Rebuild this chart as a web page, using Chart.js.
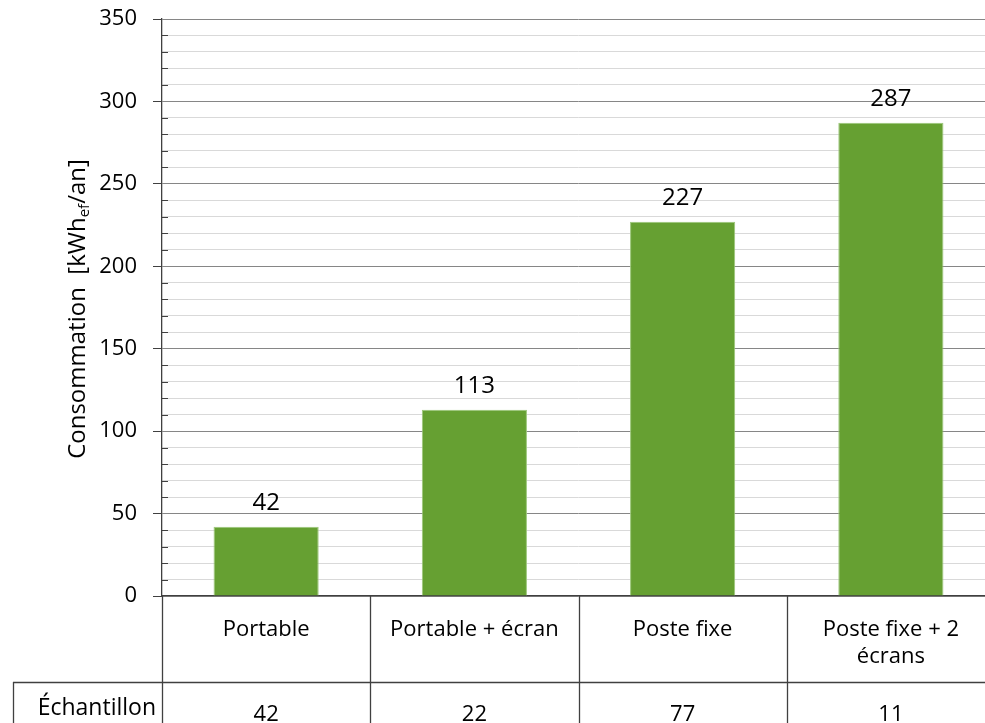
<!DOCTYPE html>
<html>
<head>
<meta charset="utf-8">
<script src="https://cdn.jsdelivr.net/npm/chart.js@4.4.1/dist/chart.umd.min.js"></script>
<style>
  html, body { margin: 0; padding: 0; overflow: hidden; background: #ffffff; }
  #wrap { position: relative; width: 1000px; height: 723px; }
</style>
</head>
<body>
<div id="wrap"><canvas id="chart" width="1000" height="723"></canvas></div>
<script>
// Configurations of workstation and their yearly consumption
const categories = [['Portable'], ['Portable + écran'], ['Poste fixe'], ['Poste fixe + 2', 'écrans']];
const consumption = [42, 113, 227, 287];
const sampleSizes = [42, 22, 77, 11];
const sampleLabel = 'Échantillon';
const yMin = 0;
const yMax = 350;
const yMajorStep = 50;
const yMinorStep = 10;

const FONT = "'Open Sans', 'DejaVu Sans', sans-serif";
const AXIS_COLOR = '#404040';
const MAJOR_GRID = '#868686';
const MINOR_GRID = '#d9d9d9';
const BAR_COLOR = '#66a032';

// Table under the axis, value labels, minor ticks and the y title
const tablePlugin = {
  id: 'tablePlugin',
  afterDraw(chart) {
    const ctx = chart.ctx;
    const area = chart.chartArea;
    const xs = chart.scales.x;
    const ys = chart.scales.y;
    const W = chart.width;
    const H = chart.height;
    const n = categories.length;
    const step = n > 1 ? xs.getPixelForValue(1) - xs.getPixelForValue(0) : area.right - area.left;
    const rowTop = area.bottom + 86;

    ctx.save();
    // minor tick marks inside the y axis
    ctx.strokeStyle = AXIS_COLOR;
    ctx.lineWidth = 1;
    for (let v = yMin; v <= yMax; v += yMinorStep) {
      if (v % yMajorStep === 0) continue;
      const y = Math.round(ys.getPixelForValue(v)) + 0.5;
      ctx.beginPath();
      ctx.moveTo(area.left, y);
      ctx.lineTo(area.left + 6, y);
      ctx.stroke();
    }

    // table grid lines
    ctx.strokeStyle = AXIS_COLOR;
    ctx.lineWidth = 1.3;
    for (let i = 0; i <= n; i++) {
      const x = Math.round(xs.getPixelForValue(0) - step / 2 + i * step) + 0.5;
      ctx.beginPath();
      ctx.moveTo(x, area.bottom);
      ctx.lineTo(x, H);
      ctx.stroke();
    }
    ctx.beginPath();
    ctx.moveTo(13, rowTop + 0.5);
    ctx.lineTo(W, rowTop + 0.5);
    ctx.stroke();
    ctx.beginPath();
    ctx.moveTo(13.5, rowTop);
    ctx.lineTo(13.5, H);
    ctx.stroke();

    // sample-size row
    ctx.fillStyle = '#000000';
    ctx.font = `23px ${FONT}`;
    ctx.textAlign = 'right';
    ctx.textBaseline = 'alphabetic';
    ctx.fillText(sampleLabel, area.left - 6, rowTop + 33);
    ctx.font = `22px ${FONT}`;
    ctx.textAlign = 'center';
    sampleSizes.forEach((s, i) => {
      ctx.fillText(String(s), xs.getPixelForValue(i), rowTop + 39);
    });

    // value labels above bars
    ctx.font = `24px ${FONT}`;
    const meta = chart.getDatasetMeta(0);
    meta.data.forEach((bar, i) => {
      ctx.fillText(String(consumption[i]), bar.x, bar.y - 17);
    });

    // y axis title with subscript
    ctx.translate(78, 309);
    ctx.rotate(-Math.PI / 2);
    const partA = 'Consommation  [kWh';
    const partSub = 'ef';
    const partB = '/an]';
    const big = `24px ${FONT}`;
    const small = `15px ${FONT}`;
    ctx.font = big;
    const wA = ctx.measureText(partA).width;
    const wB = ctx.measureText(partB).width;
    ctx.font = small;
    const wS = ctx.measureText(partSub).width;
    let x0 = -(wA + wS + wB) / 2;
    ctx.textAlign = 'left';
    ctx.textBaseline = 'middle';
    ctx.font = big;
    ctx.fillText(partA, x0, 0);
    x0 += wA;
    ctx.font = small;
    ctx.fillText(partSub, x0, 7);
    x0 += wS;
    ctx.font = big;
    ctx.fillText(partB, x0, 0);
    ctx.restore();
  }
};

new Chart(document.getElementById('chart'), {
  type: 'bar',
  data: {
    labels: categories,
    datasets: [{
      data: consumption,
      backgroundColor: BAR_COLOR,
      borderColor: '#9cc77a',
      borderWidth: 1,
      borderSkipped: 'bottom',
      categoryPercentage: 1,
      barPercentage: 0.505
    }]
  },
  options: {
    responsive: false,
    animation: false,
    devicePixelRatio: 1,
    layout: { padding: { top: 19, right: 5, left: 0, bottom: 0 } },
    plugins: {
      legend: { display: false },
      tooltip: { enabled: false },
      title: { display: false }
    },
    scales: {
      x: {
        grid: { display: false, drawTicks: false },
        border: { display: true, color: AXIS_COLOR, width: 1.3 },
        ticks: {
          color: '#000000',
          font: { family: FONT, size: 22 },
          padding: 21,
          maxRotation: 0,
          autoSkip: false
        },
        afterFit(scale) { scale.height = 127; scale.paddingLeft = 0; scale.paddingRight = 0; }
      },
      y: {
        min: yMin,
        max: yMax,
        border: { display: true, color: AXIS_COLOR, width: 1.3 },
        grid: {
          color: (c) => (c.tick && c.tick.value % yMajorStep === 0) ? MAJOR_GRID : MINOR_GRID,
          tickColor: (c) => (c.tick && c.tick.value % yMajorStep === 0) ? AXIS_COLOR : 'rgba(0,0,0,0)',
          tickLength: 9,
          lineWidth: 1
        },
        ticks: {
          stepSize: yMinorStep,
          autoSkip: false,
          color: '#000000',
          font: { family: FONT, size: 22 },
          padding: 16,
          callback: (v) => (v % yMajorStep === 0 ? String(v) : '')
        },
        afterFit(scale) { scale.width = 162; scale.paddingTop = 0; scale.paddingBottom = 0; }
      }
    }
  },
  plugins: [tablePlugin]
});
</script>
</body>
</html>
